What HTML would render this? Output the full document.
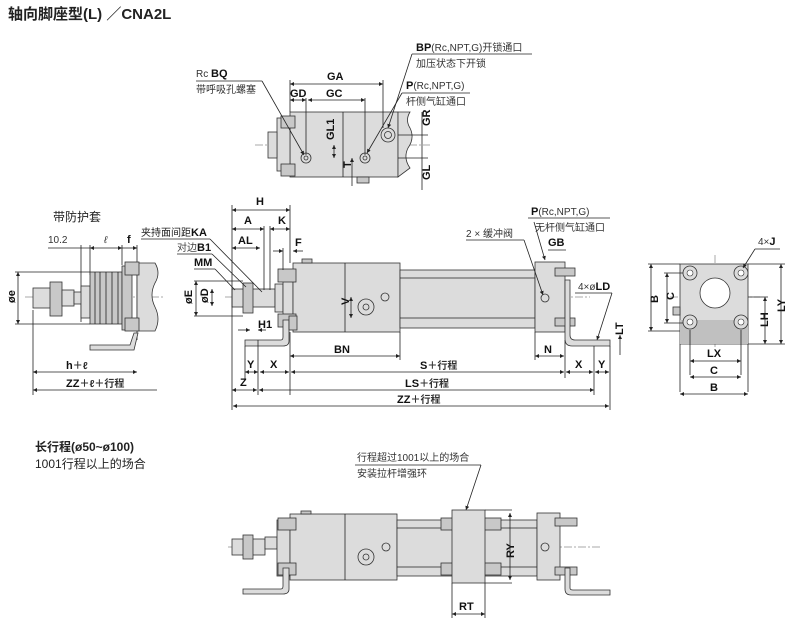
<!DOCTYPE html>
<html><head><meta charset="utf-8"><style>
body{margin:0;background:#fff;}
svg{display:block;font-family:"Liberation Sans","Noto Sans CJK SC",sans-serif;}
.t{font-size:10px;fill:#333}
.b{font-size:11px;font-weight:bold;fill:#111}
.ln{stroke:#222;stroke-width:0.8;fill:none}
.g{fill:#dcdcdc;stroke:#333;stroke-width:0.8}
.d{fill:#c8c8c8;stroke:#333;stroke-width:0.8}
.c{stroke:#555;stroke-width:0.5;stroke-dasharray:8 2 2 2;fill:none}
</style></head><body>
<svg width="790" height="637" viewBox="0 0 790 637">
<defs><marker id="a" viewBox="0 0 6 6" refX="6" refY="3" markerWidth="5" markerHeight="5" orient="auto-start-reverse"><path d="M0,0L6,3L0,6z" fill="#222"/></marker></defs>
<text x="8" y="19" font-size="15" font-weight="bold" fill="#222">轴向脚座型(L) ／CNA2L</text>

<!-- TOP VIEW -->
<line class="c" x1="255" y1="145" x2="430" y2="145"/>
<rect class="g" x="290" y="112" width="108" height="65"/>
<rect class="g" x="277" y="118" width="13" height="53"/>
<rect class="g" x="268" y="132" width="9" height="26"/>
<path class="g" d="M398,112 h12 q-5,8 0,16 q5,10 -2,20 q-5,10 2,20 l-12,9z"/>
<rect class="d" x="281" y="116" width="14" height="12"/><rect class="d" x="281" y="164" width="14" height="12"/>
<line class="ln" x1="343" y1="112" x2="343" y2="177"/>
<circle class="g" cx="306" cy="158" r="5"/><circle class="g" cx="306" cy="158" r="2"/>
<circle class="g" cx="365" cy="158" r="5"/><circle class="g" cx="365" cy="158" r="2"/>
<circle class="g" cx="388" cy="135" r="7"/><circle class="g" cx="388" cy="135" r="3.5"/>
<rect class="d" x="357" y="177" width="12" height="6"/>
<text class="t" x="196" y="77"><tspan font-size="10">Rc </tspan><tspan class="b">BQ</tspan></text>
<text class="t" x="196" y="93">带呼吸孔螺塞</text>
<line class="ln" x1="196" y1="81" x2="262" y2="81"/><line class="ln" x1="262" y1="81" x2="304" y2="155" marker-end="url(#a)"/>
<text class="b" x="327" y="80" font-size="12">GA</text>
<line class="ln" x1="290" y1="84" x2="383" y2="84" marker-start="url(#a)" marker-end="url(#a)"/>
<text class="b" x="290" y="97" font-size="12">GD</text><text class="b" x="326" y="97" font-size="12">GC</text>
<line class="ln" x1="290" y1="100" x2="306" y2="100" marker-start="url(#a)" marker-end="url(#a)"/>
<line class="ln" x1="308" y1="100" x2="365" y2="100" marker-start="url(#a)" marker-end="url(#a)"/>
<line class="ln" x1="290" y1="80" x2="290" y2="112"/><line class="ln" x1="306" y1="98" x2="306" y2="155"/><line class="ln" x1="365" y1="98" x2="365" y2="155"/><line class="ln" x1="383" y1="80" x2="383" y2="128"/>
<text x="416" y="51"><tspan class="b" font-size="12">BP</tspan><tspan class="t">(Rc,NPT,G)开锁通口</tspan></text>
<line class="ln" x1="412" y1="54" x2="532" y2="54"/><line class="ln" x1="412" y1="54" x2="388" y2="128" marker-end="url(#a)"/>
<text class="t" x="416" y="67">加压状态下开锁</text>
<text x="406" y="89"><tspan class="b" font-size="12">P</tspan><tspan class="t">(Rc,NPT,G)</tspan></text>
<line class="ln" x1="402" y1="93" x2="470" y2="93"/><line class="ln" x1="402" y1="93" x2="367" y2="153" marker-end="url(#a)"/>
<text class="t" x="406" y="105">杆侧气缸通口</text>
<text class="b" transform="translate(334,140) rotate(-90)" font-size="11">GL1</text>
<line class="ln" x1="334" y1="145" x2="334" y2="158" marker-start="url(#a)" marker-end="url(#a)"/>
<text class="b" transform="translate(351,168) rotate(-90)" font-size="11">T</text>
<line class="ln" x1="352" y1="158" x2="352" y2="186" marker-start="url(#a)"/>
<text class="b" transform="translate(430,126) rotate(-90)" font-size="11">GR</text>
<text class="b" transform="translate(430,180) rotate(-90)" font-size="11">GL</text>
<line class="ln" x1="422" y1="112" x2="422" y2="190"/>
<line class="ln" x1="398" y1="135" x2="428" y2="135"/><line class="ln" x1="398" y1="158" x2="428" y2="158"/>

<!-- BOOT VIEW -->
<text x="53" y="221" font-size="12" fill="#222">带防护套</text>
<text class="t" x="48" y="243">10.2</text><text class="t" x="104" y="243" font-style="italic">ℓ</text><text class="b" x="127" y="243">f</text>
<line class="ln" x1="48" y1="248" x2="90" y2="248"/><line class="ln" x1="90" y1="248" x2="122" y2="248" marker-start="url(#a)" marker-end="url(#a)"/><line class="ln" x1="122" y1="248" x2="137" y2="248" marker-end="url(#a)"/>
<line class="ln" x1="81" y1="245" x2="81" y2="322"/><line class="ln" x1="90" y1="245" x2="90" y2="275"/><line class="ln" x1="122" y1="245" x2="122" y2="265"/><line class="ln" x1="137" y1="245" x2="137" y2="340"/>
<line class="c" x1="25" y1="297" x2="165" y2="297"/>
<rect class="g" x="33" y="288" width="20" height="20"/><rect class="d" x="50" y="282" width="12" height="34"/>
<rect class="g" x="62" y="290" width="12" height="16"/><rect class="g" x="74" y="292" width="8" height="12"/>
<rect class="g" x="81" y="286" width="9" height="32"/>
<rect class="d" x="90" y="272" width="32" height="52"/>
<g class="ln"><line x1="95" y1="272" x2="95" y2="324"/><line x1="100" y1="272" x2="100" y2="324"/><line x1="106" y1="272" x2="106" y2="324"/><line x1="112" y1="272" x2="112" y2="324"/><line x1="118" y1="272" x2="118" y2="324"/></g>
<rect class="d" x="122" y="266" width="10" height="64"/>
<path class="g" d="M137,263 h18 q6,10 0,20 q-6,12 0,24 q6,12 0,24 h-18z"/>
<rect class="d" x="125" y="262" width="14" height="13"/><rect class="d" x="125" y="318" width="14" height="13"/>
<path class="g" d="M90,345 h40 l4,-12 h4 l-4,17 h-44z"/>
<text class="b" transform="translate(15,303) rotate(-90)">øe</text>
<line class="ln" x1="18" y1="272" x2="18" y2="324" marker-start="url(#a)" marker-end="url(#a)"/>
<line class="ln" x1="15" y1="272" x2="90" y2="272"/><line class="ln" x1="15" y1="324" x2="90" y2="324"/>
<line class="ln" x1="33" y1="310" x2="33" y2="395"/>
<text class="b" x="66" y="369" font-size="12">h<tspan class="t">＋ℓ</tspan></text>
<line class="ln" x1="33" y1="372" x2="137" y2="372" marker-start="url(#a)" marker-end="url(#a)"/>
<text class="b" x="66" y="387" font-size="12">ZZ<tspan class="t">＋ℓ＋行程</tspan></text>
<line class="ln" x1="33" y1="390" x2="157" y2="390" marker-start="url(#a)"/>

<!-- MAIN SIDE VIEW -->
<line class="c" x1="225" y1="297" x2="590" y2="297"/>
<rect class="g" x="232" y="289" width="43" height="18"/><rect class="d" x="243" y="283" width="10" height="30"/>
<rect class="g" x="275" y="284" width="8" height="28"/>
<rect class="g" x="283" y="270" width="10" height="56"/>
<rect class="g" x="293" y="263" width="107" height="69"/>
<line class="ln" x1="345" y1="263" x2="345" y2="332"/>
<rect class="d" x="302" y="259" width="10" height="4"/>
<rect class="d" x="278" y="269" width="18" height="13"/><rect class="d" x="278" y="314" width="18" height="13"/>
<circle class="g" cx="366" cy="307" r="8"/><circle class="g" cx="366" cy="307" r="3"/>
<circle class="g" cx="385" cy="297" r="4"/>
<rect class="g" x="400" y="270" width="135" height="58"/>
<line class="ln" x1="400" y1="278" x2="535" y2="278"/><line class="ln" x1="400" y1="318" x2="535" y2="318"/>
<rect class="g" x="535" y="262" width="30" height="70"/>
<rect class="d" x="555" y="268" width="20" height="8"/><rect class="d" x="555" y="318" width="20" height="8"/>
<circle class="g" cx="545" cy="298" r="4"/>
<path class="g" d="M565,280 h5 v55 q0,5 5,5 h35 v6 h-38 q-7,0 -7,-7z"/>
<path class="g" d="M283,320 h6 v21 q0,5 -6,5 h-38 v-6 h36 q2,0 2,-3z"/>
<rect class="d" x="289" y="316" width="8" height="14"/>
<text class="b" x="256" y="205" font-size="12">H</text><line class="ln" x1="232" y1="210" x2="290" y2="210" marker-start="url(#a)" marker-end="url(#a)"/>
<text class="b" x="244" y="224" font-size="12">A</text><text class="b" x="278" y="224" font-size="12">K</text>
<line class="ln" x1="232" y1="229" x2="264" y2="229" marker-start="url(#a)" marker-end="url(#a)"/>
<line class="ln" x1="270" y1="229" x2="290" y2="229" marker-start="url(#a)" marker-end="url(#a)"/>
<text class="b" x="238" y="244" font-size="12">AL</text><line class="ln" x1="232" y1="248" x2="260" y2="248" marker-start="url(#a)" marker-end="url(#a)"/>
<text class="b" x="295" y="246" font-size="12">F</text><line class="ln" x1="273" y1="251" x2="283" y2="251" marker-end="url(#a)"/><line class="ln" x1="303" y1="251" x2="293" y2="251" marker-end="url(#a)"/>
<line class="ln" x1="232" y1="205" x2="232" y2="410"/><line class="ln" x1="290" y1="205" x2="290" y2="263"/><line class="ln" x1="264" y1="226" x2="264" y2="290"/><line class="ln" x1="270" y1="226" x2="270" y2="290"/><line class="ln" x1="283" y1="248" x2="283" y2="270"/>
<text x="141" y="236"><tspan fill="#222" font-size="10">夹持面间距</tspan><tspan class="b" font-size="12">KA</tspan></text>
<line class="ln" x1="141" y1="239" x2="210" y2="239"/><line class="ln" x1="210" y1="239" x2="262" y2="292"/>
<text x="177" y="251"><tspan fill="#444" font-size="10">对边</tspan><tspan class="b" font-size="12">B1</tspan></text>
<line class="ln" x1="177" y1="254" x2="212" y2="254"/><line class="ln" x1="212" y1="254" x2="246" y2="287"/>
<text class="b" x="194" y="266" font-size="12">MM</text><line class="ln" x1="194" y1="269" x2="215" y2="269"/><line class="ln" x1="215" y1="269" x2="235" y2="290"/>
<text class="b" transform="translate(192,304) rotate(-90)">øE</text><text class="b" transform="translate(208,303) rotate(-90)">øD</text>
<line class="ln" x1="196" y1="281" x2="196" y2="316" marker-start="url(#a)" marker-end="url(#a)"/>
<line class="ln" x1="212" y1="289" x2="212" y2="306" marker-start="url(#a)" marker-end="url(#a)"/>
<line class="ln" x1="194" y1="281" x2="243" y2="281"/><line class="ln" x1="194" y1="316" x2="243" y2="316"/>
<text class="b" x="258" y="328" font-size="12">H1</text><line class="ln" x1="238" y1="330" x2="250" y2="330" marker-end="url(#a)"/><line class="ln" x1="266" y1="330" x2="258" y2="330" marker-end="url(#a)"/>
<text class="b" transform="translate(349,305) rotate(-90)">V</text><line class="ln" x1="351" y1="297" x2="351" y2="318" marker-start="url(#a)" marker-end="url(#a)"/>
<text class="b" x="334" y="353" font-size="12">BN</text><line class="ln" x1="290" y1="356" x2="400" y2="356" marker-start="url(#a)" marker-end="url(#a)"/>
<line class="ln" x1="290" y1="332" x2="290" y2="395"/><line class="ln" x1="400" y1="332" x2="400" y2="360"/>
<line class="ln" x1="245" y1="346" x2="245" y2="380"/><line class="ln" x1="258" y1="340" x2="258" y2="395"/>
<text class="b" x="247" y="368" font-size="12">Y</text><text class="b" x="270" y="368" font-size="12">X</text>
<line class="ln" x1="245" y1="372" x2="258" y2="372" marker-start="url(#a)" marker-end="url(#a)"/>
<line class="ln" x1="260" y1="372" x2="289" y2="372" marker-start="url(#a)" marker-end="url(#a)"/>
<text class="b" x="240" y="386" font-size="12">Z</text><line class="ln" x1="232" y1="390" x2="257" y2="390" marker-start="url(#a)" marker-end="url(#a)"/>
<text class="b" x="420" y="369" font-size="12">S<tspan class="t">＋行程</tspan></text><line class="ln" x1="291" y1="372" x2="564" y2="372" marker-start="url(#a)" marker-end="url(#a)"/>
<text class="b" x="405" y="387" font-size="12">LS<tspan class="t">＋行程</tspan></text><line class="ln" x1="259" y1="390" x2="594" y2="390" marker-start="url(#a)" marker-end="url(#a)"/>
<text class="b" x="397" y="403" font-size="12">ZZ<tspan class="t">＋行程</tspan></text><line class="ln" x1="233" y1="406" x2="609" y2="406" marker-start="url(#a)" marker-end="url(#a)"/>
<text class="b" x="544" y="353" font-size="12">N</text><line class="ln" x1="535" y1="356" x2="564" y2="356" marker-start="url(#a)" marker-end="url(#a)"/>
<line class="ln" x1="535" y1="332" x2="535" y2="360"/><line class="ln" x1="565" y1="340" x2="565" y2="378"/><line class="ln" x1="594" y1="346" x2="594" y2="395"/><line class="ln" x1="610" y1="346" x2="610" y2="410"/>
<text class="b" x="575" y="368" font-size="12">X</text><text class="b" x="598" y="368" font-size="12">Y</text>
<line class="ln" x1="566" y1="372" x2="593" y2="372" marker-start="url(#a)" marker-end="url(#a)"/><line class="ln" x1="595" y1="372" x2="609" y2="372" marker-start="url(#a)" marker-end="url(#a)"/>
<text x="531" y="215"><tspan class="b" font-size="12">P</tspan><tspan class="t">(Rc,NPT,G)</tspan></text><line class="ln" x1="528" y1="218" x2="610" y2="218"/>
<text class="t" x="535" y="231">无杆侧气缸通口</text><line class="ln" x1="534" y1="222" x2="545" y2="260" marker-end="url(#a)"/>
<text class="t" x="466" y="237">2 × 缓冲阀</text><line class="ln" x1="466" y1="240" x2="524" y2="240"/><line class="ln" x1="524" y1="240" x2="543" y2="295" marker-end="url(#a)"/>
<text class="b" x="548" y="246" font-size="12">GB</text><line class="ln" x1="548" y1="250" x2="566" y2="250"/>
<text class="t" x="578" y="290">4×ø<tspan class="b" font-size="12">LD</tspan></text><line class="ln" x1="575" y1="293" x2="612" y2="293"/><line class="ln" x1="612" y1="293" x2="597" y2="340" marker-end="url(#a)"/>
<text class="b" transform="translate(623,335) rotate(-90)">LT</text><line class="ln" x1="620" y1="335" x2="620" y2="355" marker-start="url(#a)"/>

<!-- END VIEW -->
<line class="c" x1="670" y1="297" x2="760" y2="297"/><line class="c" x1="715" y1="255" x2="715" y2="350"/>
<rect class="g" x="680" y="264" width="68" height="80"/>
<rect fill="#c0c0c0" x="680" y="320" width="68" height="24"/>
<circle fill="#fff" stroke="#333" stroke-width="0.8" cx="715" cy="293" r="15"/>
<g class="g"><circle cx="690" cy="273" r="7"/><circle cx="741" cy="273" r="7"/><circle cx="690" cy="322" r="7"/><circle cx="741" cy="322" r="7"/></g>
<g fill="#fff" stroke="#333" stroke-width="0.6"><circle cx="690" cy="273" r="3"/><circle cx="741" cy="273" r="3"/><circle cx="690" cy="322" r="3"/><circle cx="741" cy="322" r="3"/></g>
<rect class="d" x="673" y="307" width="7" height="8"/>
<text class="t" x="758" y="245">4×<tspan class="b">J</tspan></text><line class="ln" x1="755" y1="249" x2="780" y2="249"/><line class="ln" x1="755" y1="249" x2="743" y2="268" marker-end="url(#a)"/>
<text class="b" transform="translate(658,303) rotate(-90)" font-size="12">B</text><line class="ln" x1="651" y1="264" x2="651" y2="331" marker-start="url(#a)" marker-end="url(#a)"/>
<text class="b" transform="translate(674,300) rotate(-90)" font-size="12">C</text><line class="ln" x1="667" y1="273" x2="667" y2="323" marker-start="url(#a)" marker-end="url(#a)"/>
<line class="ln" x1="648" y1="264" x2="680" y2="264"/><line class="ln" x1="648" y1="331" x2="680" y2="331"/><line class="ln" x1="664" y1="273" x2="683" y2="273"/><line class="ln" x1="664" y1="323" x2="683" y2="323"/>
<text class="b" transform="translate(768,327) rotate(-90)" font-size="12">LH</text><line class="ln" x1="765" y1="297" x2="765" y2="344" marker-start="url(#a)" marker-end="url(#a)"/>
<text class="b" transform="translate(785,312) rotate(-90)" font-size="12">LY</text><line class="ln" x1="781" y1="264" x2="781" y2="344" marker-start="url(#a)" marker-end="url(#a)"/>
<line class="ln" x1="748" y1="264" x2="785" y2="264"/><line class="ln" x1="748" y1="344" x2="785" y2="344"/><line class="ln" x1="748" y1="297" x2="768" y2="297"/>
<line class="ln" x1="690" y1="330" x2="690" y2="375"/><line class="ln" x1="741" y1="330" x2="741" y2="375"/><line class="ln" x1="680" y1="344" x2="680" y2="392"/><line class="ln" x1="748" y1="344" x2="748" y2="392"/>
<text class="b" x="707" y="357" font-size="12">LX</text><line class="ln" x1="690" y1="361" x2="741" y2="361" marker-start="url(#a)" marker-end="url(#a)"/>
<text class="b" x="710" y="374" font-size="12">C</text><line class="ln" x1="690" y1="377" x2="741" y2="377" marker-start="url(#a)" marker-end="url(#a)"/>
<text class="b" x="710" y="391" font-size="12">B</text><line class="ln" x1="680" y1="394" x2="748" y2="394" marker-start="url(#a)" marker-end="url(#a)"/>

<!-- LONG STROKE -->
<text x="35" y="451" font-size="12" font-weight="bold" fill="#222">长行程(ø50~ø100)</text>
<text x="35" y="468" font-size="12" fill="#222">1001行程以上的场合</text>
<text class="t" x="357" y="461">行程超过1001以上的场合</text><line class="ln" x1="355" y1="465" x2="481" y2="465"/>
<text class="t" x="357" y="477">安装拉杆增强环</text><line class="ln" x1="481" y1="465" x2="466" y2="510" marker-end="url(#a)"/>
<line class="c" x1="228" y1="547" x2="600" y2="547"/>
<rect class="g" x="232" y="539" width="33" height="16"/><rect class="d" x="243" y="535" width="10" height="24"/>
<rect class="g" x="265" y="537" width="12" height="12"/>
<rect class="g" x="277" y="520" width="13" height="56"/>
<rect class="g" x="290" y="514" width="107" height="66"/><line class="ln" x1="345" y1="514" x2="345" y2="580"/>
<rect class="d" x="301" y="511" width="10" height="3"/>
<rect class="d" x="278" y="518" width="18" height="12"/><rect class="d" x="278" y="563" width="18" height="12"/>
<circle class="g" cx="366" cy="557" r="8"/><circle class="g" cx="366" cy="557" r="3"/><circle class="g" cx="386" cy="547" r="4"/>
<rect class="g" x="397" y="520" width="140" height="56"/>
<line class="ln" x1="397" y1="528" x2="537" y2="528"/><line class="ln" x1="397" y1="567" x2="537" y2="567"/>
<rect class="d" x="441" y="518" width="60" height="12"/><rect class="d" x="441" y="563" width="60" height="12"/>
<rect class="g" x="452" y="510" width="33" height="73"/>
<rect class="g" x="537" y="513" width="23" height="67"/>
<rect class="d" x="555" y="518" width="22" height="8"/><rect class="d" x="555" y="567" width="22" height="8"/>
<circle class="g" cx="545" cy="547" r="4"/>
<path class="g" d="M283,568 h6 v21 q0,5 -6,5 h-40 v-5 h38 q2,0 2,-3z"/>
<path class="g" d="M565,568 h5 v20 q0,2 3,2 h37 v5 h-39 q-6,0 -6,-6z"/>
<text class="b" transform="translate(514,558) rotate(-90)" font-size="12">RY</text><line class="ln" x1="510" y1="513" x2="510" y2="580" marker-start="url(#a)" marker-end="url(#a)"/>
<line class="ln" x1="485" y1="510" x2="512" y2="510"/><line class="ln" x1="485" y1="583" x2="512" y2="583"/>
<text class="b" x="459" y="610" font-size="12">RT</text><line class="ln" x1="452" y1="614" x2="485" y2="614" marker-start="url(#a)" marker-end="url(#a)"/>
<line class="ln" x1="452" y1="583" x2="452" y2="618"/><line class="ln" x1="485" y1="583" x2="485" y2="618"/>
</svg>
</body></html>
